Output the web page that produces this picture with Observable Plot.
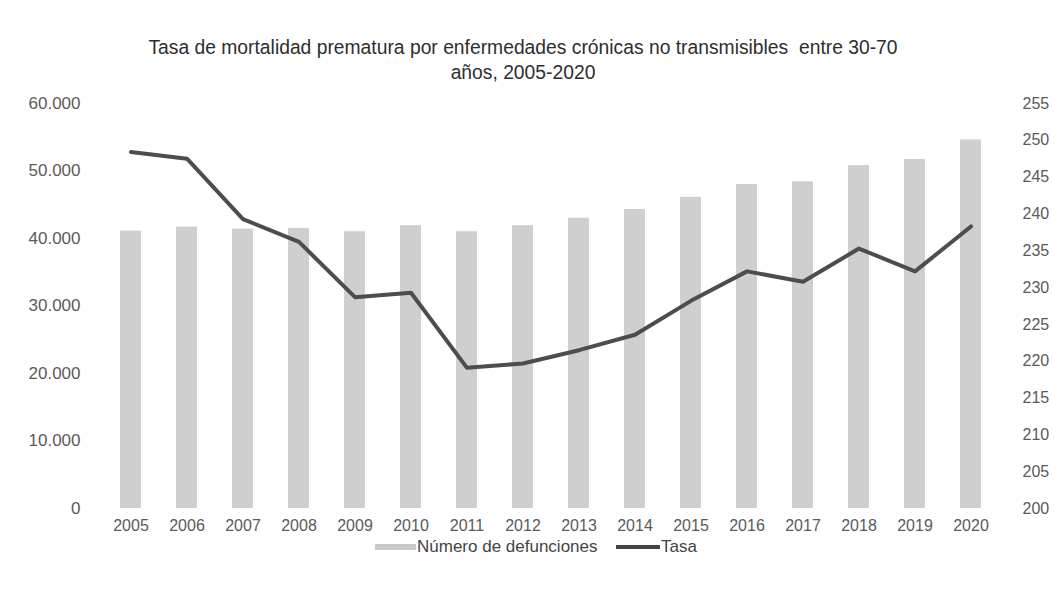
<!DOCTYPE html>
<html>
<head>
<meta charset="utf-8">
<script src="https://cdn.jsdelivr.net/npm/d3@7"></script>
<script src="https://cdn.jsdelivr.net/npm/@observablehq/plot@0.6"></script>
<style>
  body { margin: 0; background: #fff; }
  #wrap { position: relative; width: 1054px; height: 589px; font-family: "Liberation Sans Narrow", "Arial Narrow", "Liberation Sans", sans-serif; }
  #title { position: absolute; left: 0; top: 35px; width: 1046px; text-align: center; font-size: 19.3px; line-height: 25px; color: #2e2e2e; }
  #chart { position: absolute; left: 0; top: 90px; width: 1054px; height: 453px; }
  #chart svg { position: absolute; left: 0; top: 0; }
  .lg { position: absolute; }
  .lgtext { position: absolute; top: 537px; font-size: 17px; color: #444; line-height: 20px; }
</style>
</head>
<body>
<div id="wrap">
  <div id="title">Tasa de mortalidad prematura por enfermedades crónicas no transmisibles&nbsp; entre 30-70<br>años, 2005-2020</div>
  <div id="chart"></div>
  <div class="lg" style="left:375px; top:544px; width:41px; height:6px; background:#c9c9c9;"></div>
  <div class="lgtext" style="left:417px;">Número de defunciones</div>
  <div class="lg" style="left:616px; top:545px; width:44px; height:4px; background:#454545;"></div>
  <div class="lgtext" style="left:661px;">Tasa</div>
</div>
<script>
const years = ["2005","2006","2007","2008","2009","2010","2011","2012","2013","2014","2015","2016","2017","2018","2019","2020"];
const deaths = [41100, 41700, 41400, 41500, 41000, 41900, 41000, 41900, 43000, 44300, 46100, 48000, 48400, 50800, 51700, 54600];
const rates = [248.4, 247.5, 239.3, 236.2, 228.7, 229.3, 219.1, 219.7, 221.5, 223.6, 228.2, 232.2, 230.8, 235.3, 232.2, 238.3];
const deathTicks = [0, 10000, 20000, 30000, 40000, 50000, 60000];
const rateTicks = [200, 205, 210, 215, 220, 225, 230, 235, 240, 245, 250, 255];

const rows = years.map((y, i) => ({year: y, deaths: deaths[i], rate: rates[i]}));
const fmtDot = d => d3.format(",")(d).replace(/,/g, ".");

const common = {
  width: 1054,
  height: 453,
  marginTop: 13,
  marginBottom: 35,
  marginLeft: 99,
  marginRight: 53,
  style: {fontFamily: '"Liberation Sans Narrow", "Arial Narrow", "Liberation Sans", sans-serif', fontSize: "16px", color: "#5a5a5a", background: "transparent"}
};

const bars = Plot.plot({
  ...common,
  x: {type: "band", domain: years, paddingInner: 0.63, paddingOuter: 0.315, axis: null},
  y: {domain: [0, 60000], axis: null},
  marks: [
    Plot.barY(rows, {x: "year", y: "deaths", fill: "#cfcfcf"}),
    Plot.axisY({ticks: deathTicks, tickSize: 0, tickPadding: 19, tickFormat: fmtDot, fill: "#5a5a5a", fontSize: 17, label: null}),
    Plot.axisX({tickSize: 0, tickPadding: 11, fill: "#5a5a5a", fontSize: 16, label: null})
  ]
});

const line = Plot.plot({
  ...common,
  x: {type: "band", domain: years, paddingInner: 0.63, paddingOuter: 0.315, axis: null},
  y: {domain: [200, 255], axis: null},
  marks: [
    Plot.line(rows, {x: "year", y: "rate", stroke: "#4d4d4d", strokeWidth: 4, strokeLinejoin: "round", strokeLinecap: "round"}),
    Plot.axisY({anchor: "right", ticks: rateTicks, tickSize: 0, tickPadding: 21, fill: "#5a5a5a", fontSize: 16, label: null})
  ]
});

const chart = document.getElementById("chart");
chart.appendChild(bars);
chart.appendChild(line);
</script>
</body>
</html>
